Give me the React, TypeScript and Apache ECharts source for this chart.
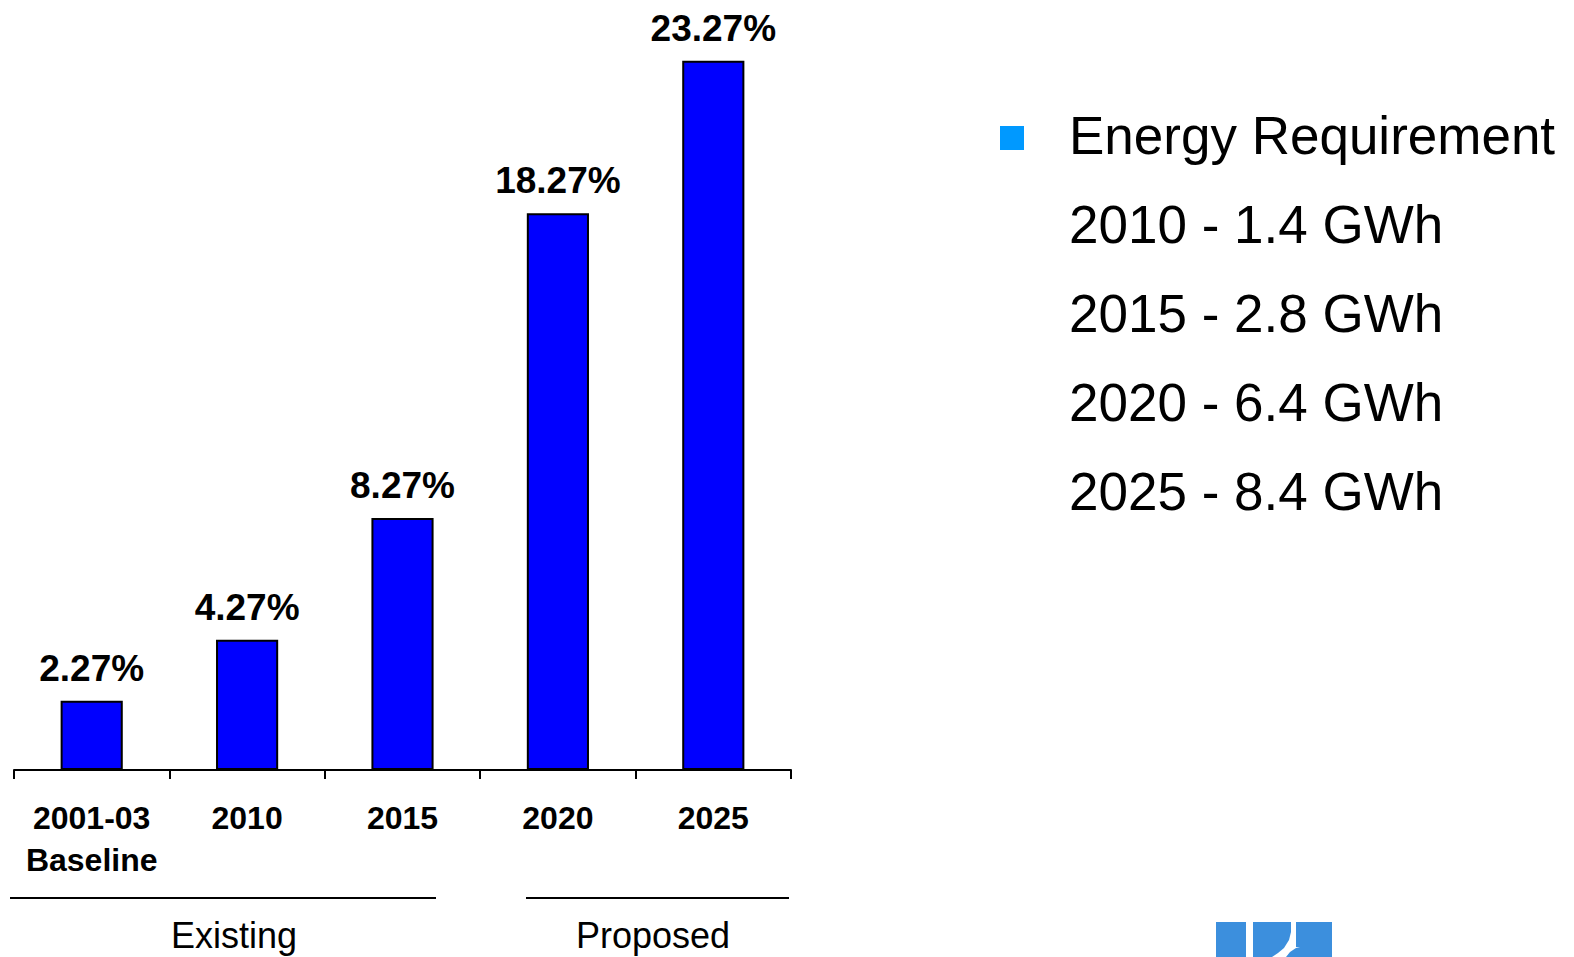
import React, { useEffect, useRef } from "react";
import * as echarts from "echarts";

const categories = ["2001-03\nBaseline", "2010", "2015", "2020", "2025"];
const shares = [2.27, 4.27, 8.27, 18.27, 23.27];
const seriesName = "Energy Requirement";
const requirementLines = ["2010 - 1.4 GWh", "2015 - 2.8 GWh", "2020 - 6.4 GWh", "2025 - 8.4 GWh"];
const groupLabels = ["Existing", "Proposed"];

const FONT = "'Liberation Sans', Arial, Helvetica, sans-serif";

export default function App() {
  const ref = useRef<HTMLDivElement>(null);
  useEffect(() => {
    if (!ref.current) return;
    const chart = echarts.init(ref.current, null, { renderer: "svg" });
    const logoColor = "#3c8fdd";
    const graphics: any[] = [
      { type: "rect", shape: { x: 1000, y: 126, width: 24, height: 24 }, style: { fill: "#0099ff" } },
      {
        type: "text",
        x: 1069,
        y: 135,
        style: { text: seriesName, font: `53px ${FONT}`, fill: "#000", textVerticalAlign: "middle" },
      },
      ...requirementLines.map((t, i) => ({
        type: "text",
        x: 1069,
        y: 224 + i * 89.3,
        style: { text: t, font: `53px ${FONT}`, fill: "#000", textVerticalAlign: "middle" },
      })),
      { type: "line", shape: { x1: 10, y1: 898, x2: 436, y2: 898 }, style: { stroke: "#000", lineWidth: 2 } },
      { type: "line", shape: { x1: 526, y1: 898, x2: 789, y2: 898 }, style: { stroke: "#000", lineWidth: 2 } },
      {
        type: "text",
        x: 234,
        y: 935,
        style: { text: groupLabels[0], font: `36px ${FONT}`, fill: "#000", textAlign: "center", textVerticalAlign: "middle" },
      },
      {
        type: "text",
        x: 653,
        y: 935,
        style: { text: groupLabels[1], font: `36px ${FONT}`, fill: "#000", textAlign: "center", textVerticalAlign: "middle" },
      },
      // partial logo at bottom
      { type: "rect", shape: { x: 1216, y: 922, width: 30, height: 40 }, style: { fill: logoColor } },
      {
        type: "polygon",
        shape: {
          points: [
            [1253, 922], [1291, 922], [1291, 932], [1289, 940], [1284, 948], [1278, 953], [1272, 957], [1253, 957],
          ],
        },
        style: { fill: logoColor },
      },
      {
        type: "polygon",
        shape: {
          points: [
            [1296, 922], [1332, 922], [1332, 957], [1286, 957], [1290, 952], [1296, 948], [1300, 947], [1296, 947],
          ],
        },
        style: { fill: logoColor },
      },
    ];
    chart.setOption({
      animation: false,
      backgroundColor: "#fff",
      grid: { left: 14, right: 783, top: 8, bottom: 187, containLabel: false },
      xAxis: {
        type: "category",
        data: categories,
        axisLine: { lineStyle: { color: "#000", width: 2 } },
        axisTick: { show: true, length: 9, lineStyle: { color: "#000", width: 2 } },
        axisLabel: {
          color: "#000",
          fontFamily: FONT,
          fontWeight: "bold",
          fontSize: 32,
          lineHeight: 42,
          margin: 27,
          interval: 0,
        },
      },
      yAxis: {
        type: "value",
        min: 0,
        max: 25,
        show: false,
        splitLine: { show: false },
      },
      series: [
        {
          name: seriesName,
          type: "bar",
          data: shares,
          barWidth: "40%",
          itemStyle: { color: "#0000ff", borderColor: "#000", borderWidth: 2 },
          label: {
            show: true,
            position: "top",
            distance: 14,
            formatter: (p: any) => `${p.value}%`,
            color: "#000",
            fontFamily: FONT,
            fontWeight: "bold",
            fontSize: 37,
          },
        },
      ],
      graphic: graphics,
    });
    return () => chart.dispose();
  }, []);
  return (
    <div
      ref={ref}
      style={{ position: "fixed", left: 0, top: 0, width: 1574, height: 957, background: "#fff" }}
    />
  );
}
